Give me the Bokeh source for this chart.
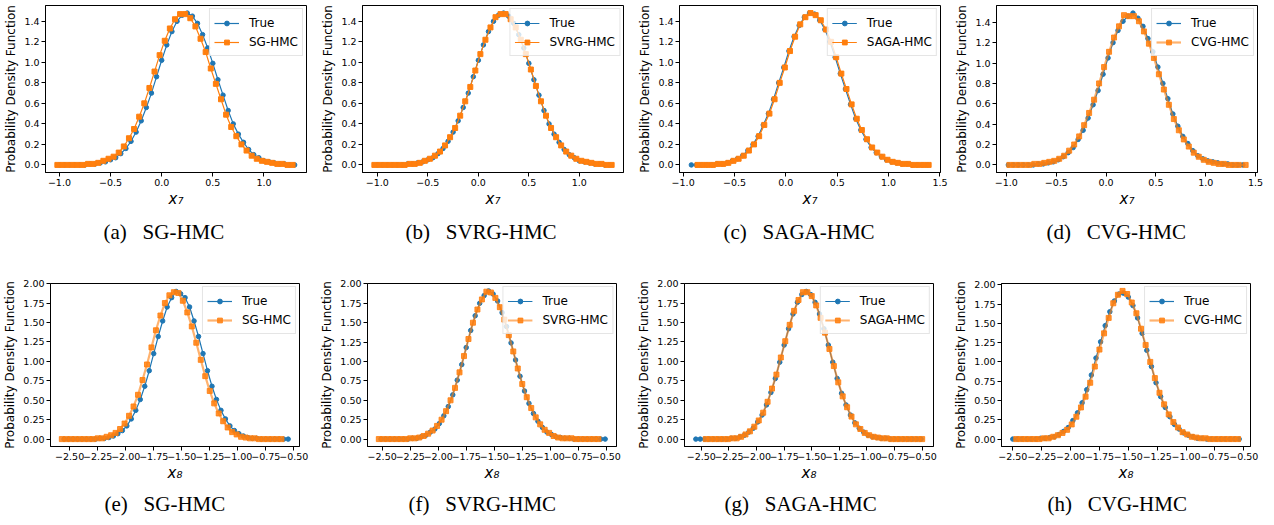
from bokeh.plotting import figure
from bokeh.models import Range1d, FixedTicker, CustomJSTickFormatter, Title
from bokeh.layouts import column, row
from bokeh.embed import file_html
from bokeh.resources import INLINE

BLUE = "#1f77b4"
ORANGE = "#ff7f0e"

# ---------------- top row: x7 ----------------
X7_TICKS_AB = [-1.0, -0.5, 0.0, 0.5, 1.0]
X7_TICKS_CD = [-1.0, -0.5, 0.0, 0.5, 1.0, 1.5]
Y7_TICKS = [0.0, 0.2, 0.4, 0.6, 0.8, 1.0, 1.2, 1.4]

XA_TRUE = [-1.00, -0.95, -0.90, -0.85, -0.80, -0.75, -0.70, -0.65, -0.60, -0.55,
           -0.50, -0.45, -0.40, -0.35, -0.30, -0.25, -0.20, -0.15, -0.10, -0.05,
           0.00, 0.05, 0.10, 0.15, 0.20, 0.25, 0.30, 0.35, 0.40, 0.45,
           0.50, 0.55, 0.60, 0.65, 0.70, 0.75, 0.80, 0.85, 0.90, 0.95,
           1.00, 1.05, 1.10, 1.15, 1.20, 1.25, 1.30]
YA_TRUE = [0.00, 0.00, 0.00, 0.00, 0.00, 0.00, 0.01, 0.01, 0.02, 0.03,
           0.05, 0.07, 0.11, 0.16, 0.23, 0.32, 0.43, 0.56, 0.70, 0.86,
           1.02, 1.17, 1.30, 1.40, 1.46, 1.48, 1.45, 1.38, 1.27, 1.14,
           0.99, 0.83, 0.68, 0.53, 0.40, 0.30, 0.22, 0.15, 0.10, 0.07,
           0.04, 0.03, 0.02, 0.01, 0.01, 0.00, 0.00]
XA_SG = [-1.02, -0.97, -0.92, -0.87, -0.82, -0.77, -0.72, -0.67, -0.62, -0.57,
         -0.52, -0.47, -0.42, -0.37, -0.32, -0.27, -0.22, -0.17, -0.12, -0.07,
         -0.02, 0.03, 0.08, 0.13, 0.18, 0.23, 0.28, 0.33, 0.38, 0.43,
         0.48, 0.53, 0.58, 0.63, 0.68, 0.73, 0.78, 0.83, 0.88, 0.93,
         0.98, 1.03, 1.08, 1.13, 1.18, 1.23, 1.28]
YA_SG = [0.00, 0.00, 0.00, 0.00, 0.00, 0.00, 0.01, 0.01, 0.02, 0.04,
         0.06, 0.08, 0.12, 0.18, 0.26, 0.35, 0.47, 0.60, 0.75, 0.91,
         1.07, 1.21, 1.33, 1.42, 1.47, 1.47, 1.43, 1.35, 1.23, 1.10,
         0.94, 0.79, 0.64, 0.49, 0.37, 0.28, 0.20, 0.14, 0.09, 0.06,
         0.04, 0.03, 0.02, 0.01, 0.01, 0.00, 0.00]

XB_TRUE = XA_TRUE
YB_TRUE = YA_TRUE
XB_SVRG = [-1.03, -0.98, -0.93, -0.88, -0.83, -0.78, -0.73, -0.68, -0.63, -0.58,
           -0.53, -0.48, -0.43, -0.38, -0.33, -0.28, -0.23, -0.18, -0.13, -0.08,
           -0.03, 0.02, 0.07, 0.12, 0.17, 0.22, 0.27, 0.32, 0.37, 0.42,
           0.47, 0.52, 0.57, 0.62, 0.67, 0.72, 0.77, 0.82, 0.87, 0.92,
           0.97, 1.02, 1.07, 1.12, 1.17, 1.22, 1.27, 1.32]
YB_SVRG = [0.00, 0.00, 0.00, 0.00, 0.00, 0.00, 0.00, 0.01, 0.01, 0.02,
           0.04, 0.06, 0.09, 0.13, 0.19, 0.27, 0.36, 0.48, 0.62, 0.76,
           0.92, 1.08, 1.22, 1.34, 1.44, 1.47, 1.47, 1.42, 1.34, 1.22,
           1.08, 0.93, 0.77, 0.62, 0.48, 0.36, 0.27, 0.19, 0.13, 0.09,
           0.06, 0.04, 0.03, 0.02, 0.01, 0.01, 0.00, 0.00]

XC_TRUE = [-0.92, -0.87, -0.82, -0.77, -0.72, -0.67, -0.62, -0.57, -0.52, -0.47,
           -0.42, -0.37, -0.32, -0.27, -0.22, -0.17, -0.12, -0.07, -0.02, 0.03,
           0.08, 0.13, 0.18, 0.23, 0.28, 0.33, 0.38, 0.43, 0.48, 0.53,
           0.58, 0.63, 0.68, 0.73, 0.78, 0.83, 0.88, 0.93, 0.98, 1.03,
           1.08, 1.13, 1.18, 1.23, 1.28, 1.33, 1.38]
YC_TRUE = [0.00, 0.00, 0.00, 0.00, 0.00, 0.01, 0.01, 0.02, 0.04, 0.06,
           0.09, 0.14, 0.20, 0.28, 0.39, 0.50, 0.64, 0.80, 0.95, 1.11,
           1.25, 1.36, 1.44, 1.48, 1.47, 1.41, 1.32, 1.20, 1.05, 0.89,
           0.74, 0.59, 0.45, 0.34, 0.25, 0.17, 0.12, 0.08, 0.05, 0.03,
           0.02, 0.01, 0.01, 0.00, 0.00, 0.00, 0.00]
XC_SAGA = [-0.86, -0.81, -0.76, -0.71, -0.66, -0.61, -0.56, -0.51, -0.46, -0.41,
           -0.36, -0.31, -0.26, -0.21, -0.16, -0.11, -0.06, -0.01, 0.04, 0.09,
           0.14, 0.19, 0.24, 0.29, 0.34, 0.39, 0.44, 0.49, 0.54, 0.59,
           0.64, 0.69, 0.74, 0.79, 0.84, 0.89, 0.94, 0.99, 1.04, 1.09,
           1.14, 1.19, 1.24, 1.29, 1.34, 1.39]
YC_SAGA = [0.00, 0.00, 0.00, 0.00, 0.01, 0.01, 0.02, 0.04, 0.06, 0.09,
           0.14, 0.20, 0.28, 0.39, 0.50, 0.64, 0.80, 0.95, 1.11, 1.25,
           1.37, 1.44, 1.48, 1.46, 1.41, 1.32, 1.20, 1.05, 0.89, 0.74,
           0.59, 0.45, 0.34, 0.25, 0.17, 0.12, 0.08, 0.05, 0.03, 0.02,
           0.01, 0.01, 0.00, 0.00, 0.00, 0.00]

XD_TRUE = [-0.98, -0.93, -0.88, -0.83, -0.78, -0.73, -0.68, -0.63, -0.58, -0.53,
           -0.48, -0.43, -0.38, -0.33, -0.28, -0.23, -0.18, -0.13, -0.08, -0.03,
           0.02, 0.07, 0.12, 0.17, 0.22, 0.27, 0.32, 0.37, 0.42, 0.47,
           0.52, 0.57, 0.62, 0.67, 0.72, 0.77, 0.82, 0.87, 0.92, 0.97,
           1.02, 1.07, 1.12, 1.17, 1.22, 1.27, 1.32, 1.37]
YD_TRUE = [0.00, 0.00, 0.00, 0.00, 0.00, 0.00, 0.01, 0.01, 0.02, 0.03,
           0.05, 0.08, 0.12, 0.17, 0.25, 0.34, 0.46, 0.59, 0.73, 0.89,
           1.05, 1.20, 1.32, 1.41, 1.46, 1.49, 1.44, 1.36, 1.24, 1.11,
           0.96, 0.80, 0.65, 0.50, 0.38, 0.28, 0.21, 0.14, 0.09, 0.06,
           0.04, 0.03, 0.02, 0.01, 0.01, 0.00, 0.00, 0.00]
XD_CVG = [-0.97, -0.92, -0.87, -0.82, -0.77, -0.72, -0.67, -0.62, -0.57, -0.52,
          -0.47, -0.42, -0.37, -0.32, -0.27, -0.22, -0.17, -0.12, -0.07, -0.02,
          0.03, 0.08, 0.13, 0.18, 0.23, 0.28, 0.33, 0.38, 0.43, 0.48,
          0.53, 0.58, 0.63, 0.68, 0.73, 0.78, 0.83, 0.88, 0.93, 0.98,
          1.03, 1.08, 1.13, 1.18, 1.23, 1.28, 1.33, 1.40]
YD_CVG = [0.00, 0.00, 0.00, 0.00, 0.00, 0.01, 0.01, 0.02, 0.03, 0.04,
          0.06, 0.09, 0.14, 0.20, 0.28, 0.39, 0.51, 0.64, 0.80, 0.96,
          1.11, 1.25, 1.36, 1.47, 1.46, 1.46, 1.41, 1.31, 1.19, 1.05,
          0.89, 0.74, 0.59, 0.45, 0.34, 0.25, 0.18, 0.12, 0.08, 0.05,
          0.03, 0.02, 0.01, 0.01, 0.00, 0.00, 0.00, 0.00]

# ---------------- bottom row: x8 ----------------
X8_TICKS = [-2.5, -2.25, -2.0, -1.75, -1.5, -1.25, -1.0, -0.75, -0.5]
Y8_TICKS = [0.0, 0.25, 0.5, 0.75, 1.0, 1.25, 1.5, 1.75, 2.0]

XE_TRUE = [-2.55, -2.51, -2.47, -2.43, -2.39, -2.35, -2.31, -2.27, -2.23, -2.19,
           -2.15, -2.11, -2.07, -2.03, -1.99, -1.95, -1.91, -1.87, -1.83, -1.79,
           -1.75, -1.71, -1.67, -1.63, -1.59, -1.55, -1.51, -1.47, -1.43, -1.39,
           -1.35, -1.31, -1.27, -1.23, -1.19, -1.15, -1.11, -1.07, -1.03, -0.99,
           -0.95, -0.91, -0.87, -0.83, -0.79, -0.75, -0.71, -0.67, -0.63, -0.59,
           -0.55]
YE_TRUE = [0.00, 0.00, 0.00, 0.00, 0.00, 0.00, 0.00, 0.00, 0.01, 0.01,
           0.02, 0.04, 0.07, 0.11, 0.17, 0.26, 0.37, 0.51, 0.68, 0.88,
           1.10, 1.32, 1.52, 1.70, 1.82, 1.90, 1.87, 1.82, 1.70, 1.52,
           1.32, 1.10, 0.88, 0.68, 0.51, 0.37, 0.26, 0.17, 0.11, 0.07,
           0.04, 0.02, 0.01, 0.01, 0.00, 0.00, 0.00, 0.00, 0.00, 0.00,
           0.00]
XE_SG = [-2.57, -2.53, -2.49, -2.45, -2.41, -2.37, -2.33, -2.29, -2.25, -2.21,
         -2.17, -2.13, -2.09, -2.05, -2.01, -1.97, -1.93, -1.89, -1.85, -1.81,
         -1.77, -1.73, -1.69, -1.65, -1.61, -1.57, -1.53, -1.49, -1.45, -1.41,
         -1.37, -1.33, -1.29, -1.25, -1.21, -1.17, -1.13, -1.09, -1.05, -1.01,
         -0.97, -0.93, -0.89, -0.85, -0.81, -0.77, -0.73, -0.69, -0.65, -0.61]
YE_SG = [0.00, 0.00, 0.00, 0.00, 0.00, 0.00, 0.00, 0.00, 0.01, 0.01,
         0.03, 0.05, 0.08, 0.13, 0.20, 0.30, 0.42, 0.57, 0.76, 0.96,
         1.18, 1.40, 1.59, 1.75, 1.85, 1.89, 1.88, 1.78, 1.63, 1.45,
         1.24, 1.02, 0.81, 0.62, 0.46, 0.33, 0.23, 0.15, 0.09, 0.06,
         0.03, 0.02, 0.01, 0.01, 0.00, 0.00, 0.00, 0.00, 0.00, 0.00]

XF_TRUE = [-2.51, -2.47, -2.43, -2.39, -2.35, -2.31, -2.27, -2.23, -2.19, -2.15,
           -2.11, -2.07, -2.03, -1.99, -1.95, -1.91, -1.87, -1.83, -1.79, -1.75,
           -1.71, -1.67, -1.63, -1.59, -1.55, -1.51, -1.47, -1.43, -1.39, -1.35,
           -1.31, -1.27, -1.23, -1.19, -1.15, -1.11, -1.07, -1.03, -0.99, -0.95,
           -0.91, -0.87, -0.83, -0.79, -0.75, -0.71, -0.67, -0.63, -0.59, -0.55,
           -0.51]
YF_TRUE = [0.00, 0.00, 0.00, 0.00, 0.00, 0.00, 0.00, 0.01, 0.01, 0.03,
           0.05, 0.09, 0.13, 0.20, 0.30, 0.42, 0.57, 0.76, 0.96, 1.18,
           1.40, 1.59, 1.75, 1.85, 1.91, 1.87, 1.78, 1.63, 1.45, 1.24,
           1.02, 0.81, 0.62, 0.46, 0.33, 0.23, 0.15, 0.09, 0.06, 0.03,
           0.02, 0.01, 0.01, 0.00, 0.00, 0.00, 0.00, 0.00, 0.00, 0.00,
           0.00]
XF_SVRG = [-2.53, -2.49, -2.45, -2.41, -2.37, -2.33, -2.29, -2.25, -2.21, -2.17,
           -2.13, -2.09, -2.05, -2.01, -1.97, -1.93, -1.89, -1.85, -1.81, -1.77,
           -1.73, -1.69, -1.65, -1.61, -1.57, -1.53, -1.49, -1.45, -1.41, -1.37,
           -1.33, -1.29, -1.25, -1.21, -1.17, -1.13, -1.09, -1.05, -1.01, -0.97,
           -0.93, -0.89, -0.85, -0.81, -0.77, -0.73, -0.69, -0.65, -0.61, -0.57]
YF_SVRG = [0.00, 0.00, 0.00, 0.00, 0.00, 0.00, 0.00, 0.01, 0.01, 0.02,
           0.04, 0.07, 0.11, 0.17, 0.25, 0.36, 0.50, 0.66, 0.86, 1.07,
           1.29, 1.50, 1.67, 1.80, 1.90, 1.89, 1.82, 1.70, 1.54, 1.34,
           1.13, 0.91, 0.71, 0.54, 0.40, 0.28, 0.19, 0.12, 0.08, 0.04,
           0.02, 0.01, 0.01, 0.01, 0.00, 0.00, 0.00, 0.00, 0.00, 0.00]

XG_TRUE = [-2.55, -2.51, -2.47, -2.43, -2.39, -2.35, -2.31, -2.27, -2.23, -2.19,
           -2.15, -2.11, -2.07, -2.03, -1.99, -1.95, -1.91, -1.87, -1.83, -1.79,
           -1.75, -1.71, -1.67, -1.63, -1.59, -1.55, -1.51, -1.47, -1.43, -1.39,
           -1.35, -1.31, -1.27, -1.23, -1.19, -1.15, -1.11, -1.07, -1.03, -0.99,
           -0.95, -0.91, -0.87, -0.83, -0.79, -0.75, -0.71, -0.67, -0.63, -0.59,
           -0.55, -0.51]
YG_TRUE = [0.00, 0.00, 0.00, 0.00, 0.00, 0.00, 0.00, 0.00, 0.01, 0.01,
           0.03, 0.05, 0.09, 0.14, 0.22, 0.31, 0.44, 0.60, 0.78, 0.99,
           1.21, 1.42, 1.61, 1.76, 1.86, 1.90, 1.86, 1.76, 1.61, 1.42,
           1.21, 0.99, 0.78, 0.59, 0.44, 0.31, 0.21, 0.14, 0.09, 0.05,
           0.03, 0.02, 0.01, 0.01, 0.00, 0.00, 0.00, 0.00, 0.00, 0.00,
           0.00, 0.00]
XG_SAGA = [-2.46, -2.42, -2.38, -2.34, -2.30, -2.26, -2.22, -2.18, -2.14, -2.10,
           -2.06, -2.02, -1.98, -1.94, -1.90, -1.86, -1.82, -1.78, -1.74, -1.70,
           -1.66, -1.62, -1.58, -1.54, -1.50, -1.46, -1.42, -1.38, -1.34, -1.30,
           -1.26, -1.22, -1.18, -1.14, -1.10, -1.06, -1.02, -0.98, -0.94, -0.90,
           -0.86, -0.82, -0.78, -0.74, -0.70, -0.66, -0.62, -0.58, -0.54, -0.50]
YG_SAGA = [0.00, 0.00, 0.00, 0.00, 0.00, 0.00, 0.01, 0.01, 0.03, 0.06,
           0.10, 0.16, 0.24, 0.34, 0.48, 0.65, 0.83, 1.05, 1.26, 1.47,
           1.65, 1.79, 1.89, 1.89, 1.84, 1.72, 1.56, 1.37, 1.16, 0.94,
           0.73, 0.55, 0.41, 0.29, 0.19, 0.13, 0.08, 0.05, 0.03, 0.02,
           0.01, 0.01, 0.00, 0.00, 0.00, 0.00, 0.00, 0.00, 0.00, 0.00]

XH_TRUE = [-2.50, -2.46, -2.42, -2.38, -2.34, -2.30, -2.26, -2.22, -2.18, -2.14,
           -2.10, -2.06, -2.02, -1.98, -1.94, -1.90, -1.86, -1.82, -1.78, -1.74,
           -1.70, -1.66, -1.62, -1.58, -1.54, -1.50, -1.46, -1.42, -1.38, -1.34,
           -1.30, -1.26, -1.22, -1.18, -1.14, -1.10, -1.06, -1.02, -0.98, -0.94,
           -0.90, -0.86, -0.82, -0.78, -0.74, -0.70, -0.66, -0.62, -0.58, -0.54]
YH_TRUE = [0.00, 0.00, 0.00, 0.00, 0.00, 0.00, 0.01, 0.01, 0.02, 0.03,
           0.06, 0.10, 0.15, 0.24, 0.34, 0.47, 0.64, 0.83, 1.05, 1.26,
           1.47, 1.65, 1.79, 1.88, 1.89, 1.84, 1.73, 1.57, 1.37, 1.15,
           0.94, 0.73, 0.55, 0.41, 0.29, 0.19, 0.13, 0.08, 0.05, 0.03,
           0.01, 0.01, 0.00, 0.00, 0.00, 0.00, 0.00, 0.00, 0.00, 0.00]
XH_CVG = [-2.47, -2.43, -2.39, -2.35, -2.31, -2.27, -2.23, -2.19, -2.15, -2.11,
          -2.07, -2.03, -1.99, -1.95, -1.91, -1.87, -1.83, -1.79, -1.75, -1.71,
          -1.67, -1.63, -1.59, -1.55, -1.51, -1.47, -1.43, -1.39, -1.35, -1.31,
          -1.27, -1.23, -1.19, -1.15, -1.11, -1.07, -1.03, -0.99, -0.95, -0.91,
          -0.87, -0.83, -0.79, -0.75, -0.71, -0.67, -0.63, -0.59, -0.55]
YH_CVG = [0.00, 0.00, 0.00, 0.00, 0.00, 0.00, 0.01, 0.01, 0.03, 0.05,
          0.08, 0.12, 0.19, 0.29, 0.41, 0.55, 0.73, 0.94, 1.16, 1.37,
          1.57, 1.76, 1.87, 1.92, 1.88, 1.77, 1.63, 1.43, 1.22, 1.00,
          0.79, 0.60, 0.45, 0.32, 0.22, 0.15, 0.09, 0.06, 0.03, 0.02,
          0.01, 0.01, 0.00, 0.00, 0.00, 0.00, 0.00, 0.00, 0.00]

PANELS = [
    ("(a)", "SG-HMC", "x\u2087", XA_TRUE, YA_TRUE, XA_SG, YA_SG, False, 0, X7_TICKS_AB),
    ("(b)", "SVRG-HMC", "x\u2087", XB_TRUE, YB_TRUE, XB_SVRG, YB_SVRG, False, 0, X7_TICKS_AB),
    ("(c)", "SAGA-HMC", "x\u2087", XC_TRUE, YC_TRUE, XC_SAGA, YC_SAGA, False, 0, X7_TICKS_CD),
    ("(d)", "CVG-HMC", "x\u2087", XD_TRUE, YD_TRUE, XD_CVG, YD_CVG, True, 0, X7_TICKS_CD),
    ("(e)", "SG-HMC", "x\u2088", XE_TRUE, YE_TRUE, XE_SG, YE_SG, True, 1, X8_TICKS),
    ("(f)", "SVRG-HMC", "x\u2088", XF_TRUE, YF_TRUE, XF_SVRG, YF_SVRG, True, 1, X8_TICKS),
    ("(g)", "SAGA-HMC", "x\u2088", XG_TRUE, YG_TRUE, XG_SAGA, YG_SAGA, True, 1, X8_TICKS),
    ("(h)", "CVG-HMC", "x\u2088", XH_TRUE, YH_TRUE, XH_CVG, YH_CVG, True, 1, X8_TICKS),
]

for pnl in PANELS:
    assert len(pnl[3]) == len(pnl[4]), pnl[0] + " true"
    assert len(pnl[5]) == len(pnl[6]), pnl[0] + " method"

# approximate Times advance widths (1/1000 em) for centring the captions
SERIF_W = {"(": 333, ")": 333, "a": 444, "b": 500, "c": 444, "d": 500, "e": 444,
           "f": 333, "g": 500, "h": 500, "\u00a0": 250, "S": 556, "G": 722,
           "-": 333, "H": 722, "M": 889, "C": 667, "V": 722, "R": 667, "A": 722}
CAP_PX = 21
GAP = "\u00a0\u00a0\u00a0"


def fmt(digits):
    return CustomJSTickFormatter(code=(
        "const s = Math.abs(tick).toFixed(%d);"
        "return (tick < -1e-9 ? '\u2212' : '') + s;" % digits))


def make_panel(col, tag, method, var, xt, yt, xm, ym, faded, rowi, xticks):
    if rowi == 0:
        h, top, bottom, right = 250, 5, 77, 11
        yticks, ydig, xdig = Y7_TICKS, 1, 1
        cap_center, cap_standoff = 118, 14
    else:
        h, top, bottom, right = 273, 33, 77, 18
        yticks, ydig, xdig = Y8_TICKS, 2, 2
        cap_center, cap_standoff = 114, 11
    cap_center += [0, 1, 2, 2][col]
    xs = list(xt) + list(xm)
    ys = list(yt) + list(ym)
    x0, x1 = min(xs), max(xs)
    y0, y1 = min(ys), max(ys)
    dx, dy = (x1 - x0) * 0.05, (y1 - y0) * 0.05
    ytop = y1 + dy
    if rowi == 1 and ytop < 2.0:
        ytop = 2.002
    p = figure(width=317, height=h, output_backend="svg", toolbar_location=None,
               x_range=Range1d(x0 - dx, x1 + dx), y_range=Range1d(y0 - dy, ytop),
               min_border_left=45, min_border_right=right,
               min_border_top=top, min_border_bottom=bottom)
    p.background_fill_color = "white"
    p.border_fill_color = "white"
    p.outline_line_color = "black"
    p.outline_line_width = 1
    p.xgrid.visible = False
    p.ygrid.visible = False

    p.line(xt, yt, color=BLUE, line_width=1.2, legend_label="True")
    p.scatter(xt, yt, marker="circle", size=4.5, color=BLUE, legend_label="True")
    if faded:
        p.line(xm, ym, color=ORANGE, line_width=2.2, line_alpha=0.6, legend_label=method)
        p.scatter(xm, ym, marker="square", size=5, color=ORANGE, alpha=0.85,
                  legend_label=method)
    else:
        p.line(xm, ym, color=ORANGE, line_width=1.2, legend_label=method)
        p.scatter(xm, ym, marker="square", size=5, color=ORANGE, legend_label=method)

    for ax, ticks, dig in ((p.xaxis, xticks, xdig), (p.yaxis, yticks, ydig)):
        ax.ticker = FixedTicker(ticks=ticks)
        ax.formatter = fmt(dig)
        ax.minor_tick_line_color = None
        ax.major_tick_in = 0
        ax.major_tick_out = 4
        ax.major_tick_line_color = "black"
        ax.axis_line_color = "black"
        ax.major_label_text_font = "DejaVu Sans"
        ax.major_label_text_font_size = "9.5px"
        ax.major_label_text_color = "black"
        ax.major_label_standoff = 2
        ax.axis_label_text_font = "DejaVu Sans"
        ax.axis_label_text_color = "black"
        ax.axis_label_standoff = 3

    p.yaxis.axis_label = "Probability Density Function"
    p.yaxis.axis_label_text_font_size = "12px"
    p.yaxis.axis_label_text_font_style = "normal"
    p.xaxis.axis_label = var
    p.xaxis.axis_label_text_font_size = "15px"
    p.xaxis.axis_label_text_font_style = "italic"
    p.xaxis.axis_label_standoff = 1

    leg = p.legend[0]
    leg.location = "top_right"
    leg.margin = 3
    leg.padding = 4
    leg.spacing = 0
    leg.label_height = 19
    leg.glyph_height = 12
    leg.glyph_width = 25
    leg.label_standoff = 10
    leg.label_text_font = "DejaVu Sans"
    leg.label_text_font_size = "12px"
    leg.label_text_color = "black"
    leg.border_line_color = "#cccccc"
    leg.border_line_width = 1
    leg.background_fill_color = "white"
    leg.background_fill_alpha = 0.8

    text = tag + GAP + method
    width_px = sum(SERIF_W.get(ch, 500) for ch in text) / 1000.0 * CAP_PX
    cap = Title(text=text, align="left",
                text_font="Liberation Serif", text_font_size="%dpx" % CAP_PX,
                text_font_style="normal", text_color="black",
                standoff=cap_standoff, offset=round(cap_center - width_px / 2))
    p.add_layout(cap, "below")
    return p


figs = [make_panel(i % 4, *pnl) for i, pnl in enumerate(PANELS)]
layout = column(row(*figs[:4]), row(*figs[4:]))

with open("out.html", "w", encoding="utf-8") as f:
    f.write(file_html(layout, INLINE))
